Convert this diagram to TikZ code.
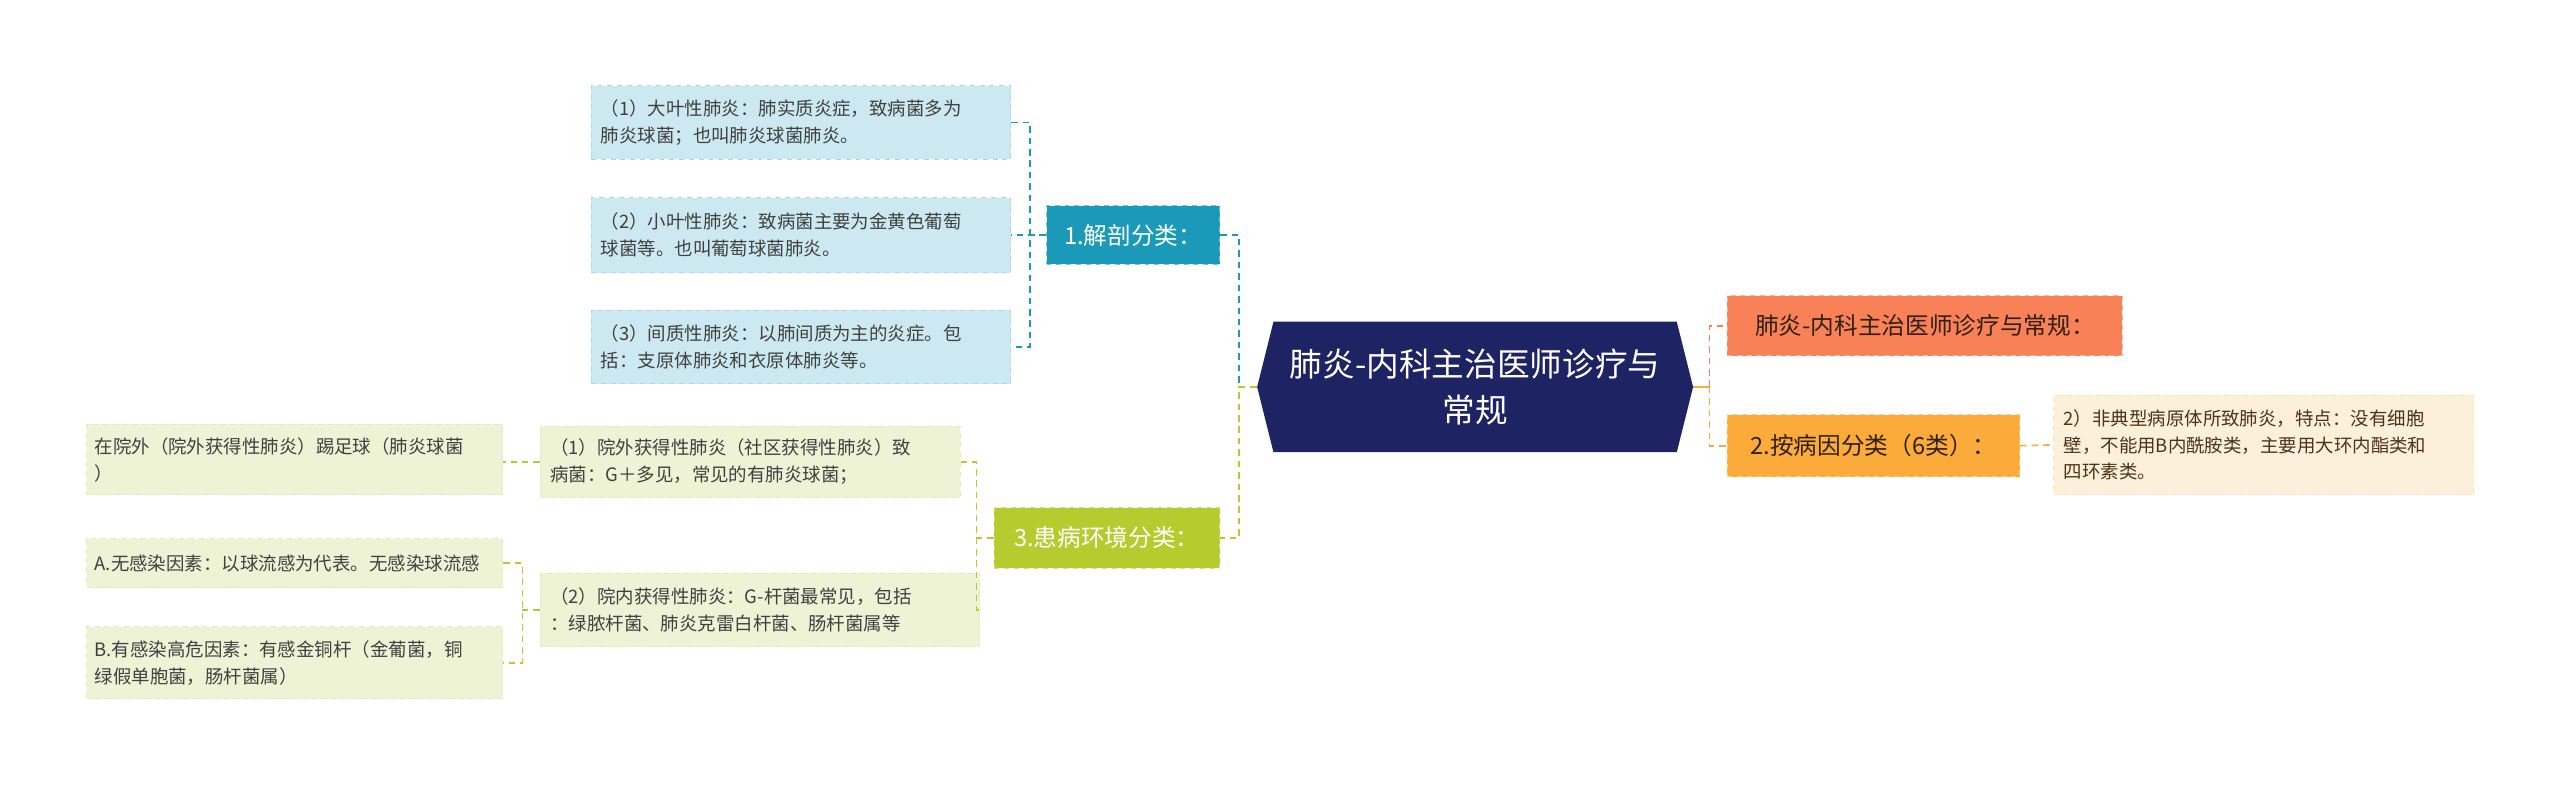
\documentclass[tikz,border=0pt]{standalone}
\usepackage{fontspec}
\setmainfont{Noto Sans CJK SC}
\begin{document}
\begin{tikzpicture}[x=1pt,y=-1pt,
  leaf/.style={rectangle,inner sep=0pt,align=left,font=\fontsize{11.3}{16.5}\selectfont,text=black!75,dashed,line width=0.6pt},
  br/.style={rectangle,inner sep=0pt,align=center,font=\fontsize{14.5}{18}\selectfont,dashed,line width=0.7pt},
  conn/.style={dashed,line width=1pt,dash pattern=on 4pt off 3pt}]
\definecolor{navy}{HTML}{1E2463}
\definecolor{teal}{HTML}{1A9AB8}
\definecolor{lblue}{HTML}{CCE9F2}
\definecolor{lime}{HTML}{B5CB2E}
\definecolor{lgreen}{HTML}{EEF3D6}
\definecolor{coral}{HTML}{F98158}
\definecolor{orng}{HTML}{FBAB3A}
\definecolor{cream}{HTML}{FDF0DA}
\useasboundingbox (0,0) rectangle (1568,481);
\fill[white] (0,0) rectangle (1568,481);
% center
\fill[navy] (770,237) -- (780,197) -- (1027,197) -- (1037,237) -- (1027,277) -- (780,277) -- cycle;
\node[inner sep=0pt,minimum width=267pt,minimum height=80pt,align=center,text=white,font=\fontsize{20}{28}\selectfont] (c) at (903.5,237) {肺炎-内科主治医师诊疗与\\常规};
% branch 1
\node[br,fill=teal,draw=teal!60,text=white,minimum width=106pt,minimum height=36pt] (b1) at (694,144) {1.解剖分类：};
\node[leaf,fill=lblue,draw=lblue!80!teal,minimum width=257pt,minimum height=45pt,text width=245pt] (l1) at (490.5,75) {（1）大叶性肺炎：肺实质炎症，致病菌多为\\肺炎球菌；也叫肺炎球菌肺炎。};
\node[leaf,fill=lblue,draw=lblue!80!teal,minimum width=257pt,minimum height=46pt,text width=245pt] (l2) at (490.5,144) {（2）小叶性肺炎：致病菌主要为金黄色葡萄\\球菌等。也叫葡萄球菌肺炎。};
\node[leaf,fill=lblue,draw=lblue!80!teal,minimum width=257pt,minimum height=45pt,text width=245pt] (l3) at (490.5,212.5) {（3）间质性肺炎：以肺间质为主的炎症。包\\括：支原体肺炎和衣原体肺炎等。};
\draw[conn,teal] (b1.west) -- (l2.east);
\draw[conn,teal] (l1.east) -- (631,75) -- (631,212.5) -- (l3.east);
\draw[conn,teal] (b1.east) -- (759,144) -- (759,237);
% branch 3
\node[br,fill=lime,draw=lime!60,text=white,minimum width=138pt,minimum height=37pt] (b3) at (678,329.5) {3.患病环境分类：};
\draw[conn,lime] (c.west) -- (759,237) -- (759,329.5) -- (b3.east);
\node[leaf,fill=lgreen,draw=lgreen!80!lime,minimum width=257pt,minimum height=44pt,text width=245pt] (g1) at (459.5,283) {（1）院外获得性肺炎（社区获得性肺炎）致\\病菌：G＋多见，常见的有肺炎球菌；};
\node[leaf,fill=lgreen,draw=lgreen!80!lime,minimum width=269pt,minimum height=45pt,text width=257pt] (g2) at (465.5,373.5) {（2）院内获得性肺炎：G-杆菌最常见，包括\\：绿脓杆菌、肺炎克雷白杆菌、肠杆菌属等};
\draw[conn,lime] (b3.west) -- (598,329.5);
\draw[conn,lime] (g1.east) -- (598,283) -- (598,373.5) -- (g2.east);
\node[leaf,fill=lgreen,draw=lgreen!80!lime,minimum width=255pt,minimum height=43pt,text width=245pt] (h1) at (180.5,281.5) {在院外（院外获得性肺炎）踢足球（肺炎球菌\\）};
\node[leaf,fill=lgreen,draw=lgreen!80!lime,minimum width=255pt,minimum height=30pt,text width=245pt] (h2) at (180.5,345) {A.无感染因素：以球流感为代表。无感染球流感};
\node[leaf,fill=lgreen,draw=lgreen!80!lime,minimum width=255pt,minimum height=44pt,text width=245pt] (h3) at (180.5,406) {B.有感染高危因素：有感金铜杆（金葡菌，铜\\绿假单胞菌，肠杆菌属）};
\draw[conn,lime] (g1.west) -- (h1.east |- g1.west);
\draw[conn,lime] (g2.west) -- (320,373.5);
\draw[conn,lime] (h2.east) -- (320,345) -- (320,406) -- (h3.east);
% right
\node[br,fill=coral,draw=coral!60,text=black!75!brown,minimum width=242pt,minimum height=37pt,align=left] (r1) at (1179,199.5) {肺炎-内科主治医师诊疗与常规：};
\node[br,fill=orng,draw=orng!60,text=black!75!brown,minimum width=179pt,minimum height=38pt] (r2) at (1147.5,273) {2.按病因分类（6类）：};
\node[leaf,fill=cream,draw=cream!80!orng,text=black!60!brown,minimum width=257pt,minimum height=61pt,text width=245pt] (r3) at (1386.5,272.5) {2）非典型病原体所致肺炎，特点：没有细胞\\壁，不能用B内酰胺类，主要用大环内酯类和\\四环素类。};
\draw[line width=1pt,orng] (c.east) -- (1047,237);
\draw[conn,coral] (1047,237) -- (1047,199.5) -- (r1.west);
\draw[conn,orng] (1047,237) -- (1047,273) -- (r2.west);
\draw[conn,orng] (r2.east) -- (r3.west);
\end{tikzpicture}
\end{document}
